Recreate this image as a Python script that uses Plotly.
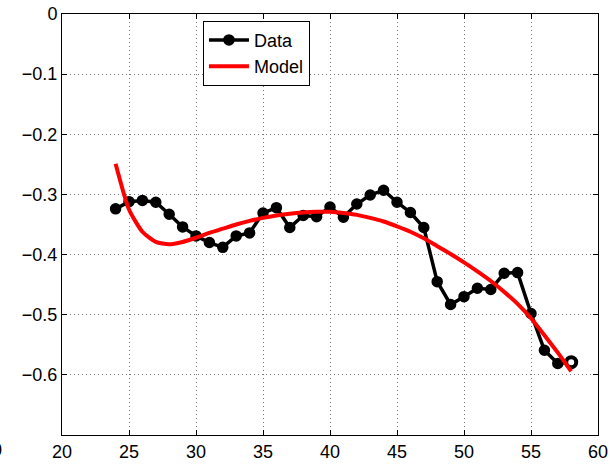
import plotly.graph_objects as go

# Measured series
x_data = list(range(24, 59))
y_data = [-0.324, -0.312, -0.310, -0.313, -0.333, -0.354, -0.369, -0.380, -0.388,
          -0.369, -0.364, -0.331, -0.322, -0.355, -0.335, -0.337, -0.321, -0.338,
          -0.316, -0.301, -0.293, -0.313, -0.330, -0.355, -0.445, -0.483, -0.470,
          -0.456, -0.458, -0.431, -0.430, -0.498, -0.559, -0.581, -0.579]

# Fitted model
x_model = list(range(24, 59))
y_model = [-0.249, -0.325, -0.362, -0.379, -0.383, -0.379, -0.372, -0.364, -0.357,
           -0.350, -0.344, -0.339, -0.335, -0.332, -0.330, -0.329, -0.329, -0.331,
           -0.334, -0.339, -0.345, -0.353, -0.362, -0.373, -0.386, -0.399, -0.413,
           -0.428, -0.444, -0.462, -0.482, -0.506, -0.534, -0.563, -0.594]

x_ticks = [20, 25, 30, 35, 40, 45, 50, 55, 60]
y_ticks = [0, -0.1, -0.2, -0.3, -0.4, -0.5, -0.6]

marker_fill = ["black"] * (len(x_data) - 1) + ["white"]
marker_edge = [1.5] * (len(x_data) - 1) + [4]

FONT = "Liberation Sans, Arial"

fig = go.Figure()
fig.add_trace(go.Scatter(
    x=x_data, y=y_data, name="Data", mode="lines+markers",
    line=dict(color="black", width=3.5),
    marker=dict(size=10, color=marker_fill, line=dict(color="black", width=marker_edge)),
))
fig.add_trace(go.Scatter(
    x=x_model, y=y_model, name="Model", mode="lines",
    line=dict(color="#ff0000", width=4, shape="spline", smoothing=0.6),
))

axis_common = dict(
    showline=True, linecolor="black", linewidth=1, mirror="ticks",
    ticks="inside", ticklen=5, tickcolor="black", automargin=False,
    showgrid=True, gridcolor="#777777", gridwidth=1, griddash="1px,3px",
    zeroline=False, tickfont=dict(family=FONT, size=18, color="black"),
)

fig.update_xaxes(range=[20, 60], tickvals=x_ticks, ticktext=[str(v) for v in x_ticks], **axis_common)
fig.update_yaxes(range=[-0.7, 0], tickvals=y_ticks,
                 ticktext=["0"] + ["\u2212" + f"{abs(v):.1f}" for v in y_ticks[1:]],
                 **axis_common)

# Partially visible label at the lower-left corner
fig.add_annotation(
    text="0", xref="paper", yref="paper", x=-0.108, y=-0.036,
    xanchor="right", yanchor="middle", showarrow=False,
    font=dict(family=FONT, size=18, color="black"),
)

fig.update_layout(
    width=610, height=465,
    margin=dict(l=62, r=12, t=14, b=30, autoexpand=False),
    plot_bgcolor="white", paper_bgcolor="white",
    font=dict(family=FONT, size=18, color="black"),
    legend=dict(
        x=0.263, y=0.984, xanchor="left", yanchor="top",
        bgcolor="white", bordercolor="black", borderwidth=1,
        font=dict(size=18), itemwidth=40, tracegroupgap=0,
    ),
    showlegend=True,
)

fig.write_html("out.html")
